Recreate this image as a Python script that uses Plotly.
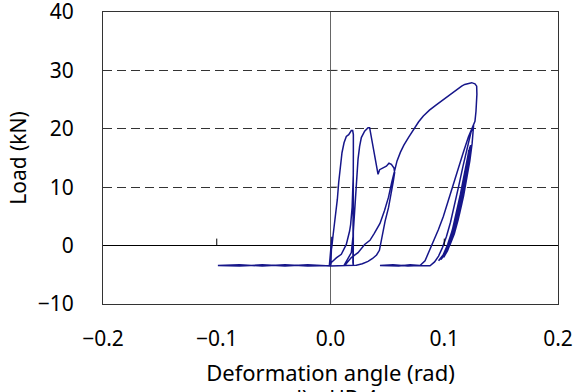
import plotly.graph_objects as go

# ---- data (deformation angle in rad, load in kN) ----
spike_loop1_x = [-0.001, 0.0005, 0.001, 0.0003, 0.0012, 0.0006, 0.0015, 0.001, 0.0022, 0.0042, 0.006, 0.0072,
                 0.0086, 0.0101, 0.0119, 0.0139, 0.016, 0.0171, 0.0183, 0.0195, 0.0201, 0.0201, 0.0199, 0.0196,
                 0.0195, 0.0197, 0.0200]
spike_loop1_y = [-3.4, -0.5, 1.0, -3.3, 1.5, -2.8, 0.8, -0.5, 1.65, 4.5, 7.9, 10.8,
                 13.6, 15.9, 17.6, 18.7, 19.0, 19.3, 19.7, 19.7, 19.0, 15.9, 10.2, 4.5,
                 -0.1, -2.9, -3.35]

flat_neg_x = [0.012, 0.0, -0.02, -0.04, -0.06, -0.08, -0.099, -0.08, -0.06, -0.04, -0.02, 0.0, 0.0007]
flat_neg_y = [-3.4, -3.5, -3.3, -3.5, -3.3, -3.5, -3.4, -3.3, -3.5, -3.3, -3.5, -3.4, -2.9]

reload1_x = [0.0051, 0.0095, 0.0139, 0.0168, 0.0177, 0.019, 0.0196, 0.0199, 0.0200, 0.0201, 0.0200, 0.0119]
reload1_y = [-2.1, -1.5, 0.2, 2.5, 3.6, 6.5, 9.0, 11.0, 12.0, 4.0, -3.35, -3.4]

loop2_x = [0.0183, 0.0198, 0.0207, 0.0218, 0.0227, 0.0242, 0.0256, 0.0271, 0.030, 0.033, 0.0344, 0.0353,
           0.0365, 0.0382, 0.0403, 0.0412, 0.0418, 0.0432, 0.0462, 0.0491, 0.0514, 0.0535, 0.0558, 0.0564]
loop2_y = [-1.2, 1.6, 4.5, 8.5, 11.9, 14.8, 17.0, 18.5, 19.6, 20.2, 20.2, 19.3,
           17.6, 15.9, 14.2, 13.3, 12.2, 13.0, 13.3, 13.6, 14.1, 13.9, 13.3, 12.5]

unload2_x = [0.0552, 0.0535, 0.051, 0.048, 0.0458, 0.0445, 0.043, 0.0405, 0.037, 0.033, 0.028, 0.0227, 0.0125]
unload2_y = [11.0, 9.0, 6.5, 4.2, 2.2, 0.6, -0.8, -1.6, -2.2, -2.7, -3.1, -3.35, -3.4]

big_x = [0.0183, 0.0242, 0.030, 0.0347, 0.0385, 0.0435, 0.0475, 0.051, 0.0538, 0.056, 0.0585, 0.0615,
         0.0645, 0.0685, 0.0728, 0.0775, 0.0816, 0.0870, 0.0930, 0.0985, 0.1035, 0.1075, 0.111, 0.1153,
         0.118, 0.1212, 0.1241, 0.127, 0.1285, 0.1287, 0.1285, 0.1279, 0.127, 0.1256]
big_y = [-2.05, -1.2, 0.2, 0.9, 2.1, 3.8, 6.0, 8.3, 10.8, 12.8, 14.5, 16.0,
         17.2, 18.5, 19.9, 21.2, 22.2, 23.2, 24.1, 24.9, 25.7, 26.3, 26.7, 27.3,
         27.6, 27.7, 27.9, 27.7, 27.3, 25.9, 24.5, 23.0, 21.3, 20.7]

outer_x = [0.1212, 0.1168, 0.1124, 0.108, 0.1036, 0.0992, 0.0948, 0.0904, 0.086, 0.0831, 0.0787,
           0.070, 0.060, 0.0435, 0.055, 0.068, 0.0787, 0.0875]
outer_y = [18.6, 16.0, 13.2, 10.4, 7.6, 5.0, 2.7, 0.6, -1.5, -2.6, -3.4,
           -3.3, -3.5, -3.4, -3.3, -3.5, -3.4, -3.45]

reload3_x = [0.0915, 0.095, 0.0985, 0.102, 0.1055, 0.109, 0.1125, 0.1165, 0.1205, 0.1235, 0.1258]
reload3_y = [-2.8, -1.8, -0.3, 1.6, 4.0, 6.8, 10.0, 13.6, 17.0, 19.4, 20.6]

cycles_x = [0.1245, 0.1225, 0.12, 0.117, 0.1135, 0.11, 0.1065, 0.103, 0.099, 0.095,
            0.099, 0.103, 0.107, 0.111, 0.1145, 0.1175, 0.12, 0.1218, 0.1228,
            0.1222, 0.1205, 0.118, 0.115, 0.1115, 0.108, 0.1045, 0.101, 0.0975,
            0.101, 0.1045, 0.108, 0.1115, 0.1148, 0.1178, 0.1202, 0.1222,
            0.1215, 0.1195, 0.117, 0.114, 0.1105, 0.107, 0.1035, 0.0995,
            0.103, 0.1065, 0.1098, 0.113, 0.116, 0.1188, 0.121, 0.1232,
            0.1228, 0.121, 0.1185, 0.1155, 0.1122, 0.1088, 0.105, 0.101,
            0.1045, 0.108, 0.1112, 0.1142, 0.117, 0.1195, 0.1215,
            0.1208, 0.1188, 0.116, 0.1128, 0.1095, 0.106, 0.1025,
            0.106, 0.1092, 0.1125, 0.1155, 0.1182, 0.1205, 0.1225,
            0.1218, 0.1198, 0.1172, 0.1142, 0.111, 0.1075, 0.104, 0.1005, 0.097,
            0.1005, 0.104, 0.1075, 0.111, 0.1142, 0.1172, 0.1198, 0.1218,
            0.121, 0.119, 0.1162, 0.113, 0.1098, 0.1062, 0.1028, 0.0995]
cycles_y = [17.5, 14.5, 11.5, 8.5, 5.5, 3.0, 1.0, -0.6, -1.8, -2.6,
            -1.6, 0.2, 2.6, 5.4, 8.4, 11.4, 14.0, 16.0, 17.0,
            15.5, 13.0, 10.0, 7.0, 4.2, 1.8, 0.0, -1.3, -2.2,
            -1.0, 0.8, 3.0, 5.8, 8.8, 11.8, 14.4, 16.6,
            14.8, 12.0, 9.0, 6.0, 3.3, 1.2, -0.4, -1.6,
            -0.2, 1.8, 4.2, 7.0, 10.0, 13.0, 15.6, 17.2,
            15.8, 13.2, 10.2, 7.2, 4.4, 2.0, 0.1, -1.2,
            0.4, 2.6, 5.2, 8.0, 11.0, 13.8, 16.2,
            14.2, 11.4, 8.4, 5.4, 2.8, 0.8, -0.8,
            1.0, 3.2, 6.0, 9.0, 12.0, 14.8, 16.8,
            15.0, 12.2, 9.2, 6.2, 3.6, 1.4, -0.3, -1.6, -2.4,
            -1.2, 0.6, 3.0, 5.8, 8.8, 11.8, 14.6, 16.4,
            14.4, 11.6, 8.6, 5.6, 3.0, 0.8, -0.9, -2.0]

x_tick_vals = [-0.2, -0.1, 0.0, 0.1, 0.2]
y_tick_vals = [-10, 0, 10, 20, 30, 40]
cross_x_ticks = [-0.1, 0.1]
cross_y_ticks = [10, 20, 30]

x_title = "Deformation angle (rad)"
y_title = "Load (kN)"
caption = "d)\u3000HB-4"

# ---- assemble the path ----
xs = (spike_loop1_x + flat_neg_x + reload1_x + loop2_x + unload2_x + big_x + outer_x
      + reload3_x + cycles_x)
ys = (spike_loop1_y + flat_neg_y + reload1_y + loop2_y + unload2_y + big_y + outer_y
      + reload3_y + cycles_y)

FONT = "Noto Sans"
fig = go.Figure()
fig.add_trace(go.Scatter(x=xs, y=ys, mode="lines",
                         line=dict(color="#16168a", width=1.5), showlegend=False,
                         hoverinfo="skip"))

shapes = []
for t in cross_x_ticks:
    shapes.append(dict(type="line", xref="x", yref="y", ysizemode="pixel", yanchor=0,
                       x0=t, x1=t, y0=0, y1=7, line=dict(color="black", width=1)))
for t in cross_y_ticks:
    shapes.append(dict(type="line", xref="x", yref="y", xsizemode="pixel", xanchor=0,
                       x0=0, x1=7, y0=t, y1=t, line=dict(color="#333", width=1)))

fig.update_layout(
    width=574, height=392,
    margin=dict(l=103, r=16, t=12, b=88),
    paper_bgcolor="white", plot_bgcolor="white",
    font=dict(family=FONT, size=21, color="black"),
    shapes=shapes,
    xaxis=dict(range=[-0.2, 0.2], tickvals=x_tick_vals, tickformat=".1f",
               showgrid=False, zeroline=True, zerolinecolor="#666", zerolinewidth=1,
               showline=True, mirror=True, linecolor="#333", linewidth=1,
               ticks="", ticklabelstandoff=16, ticklabeloverflow="allow", automargin=False,
               title=dict(text=x_title, standoff=14, font=dict(size=22))),
    yaxis=dict(range=[-10, 40], tickvals=y_tick_vals,
               showgrid=True, gridcolor="#333", gridwidth=1, griddash="9px,5px",
               zeroline=True, zerolinecolor="black", zerolinewidth=1,
               showline=True, mirror=True, linecolor="#333", linewidth=1,
               ticks="", ticklabelstandoff=24, ticklabeloverflow="allow", automargin=False,
               title=dict(text=y_title, standoff=5, font=dict(size=21))),
    annotations=[dict(text=caption, xref="paper", yref="paper", x=0.505, y=-0.322,
                      xanchor="center", yanchor="middle", showarrow=False,
                      font=dict(size=21, family=FONT))],
)

fig.write_html("out.html")
